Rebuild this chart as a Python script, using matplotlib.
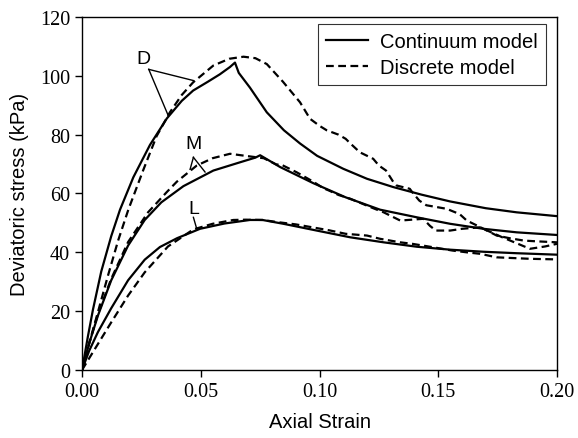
import numpy as np
import matplotlib.pyplot as plt

# Continuum model curves (axial strain, deviatoric stress in kPa)
cont_d_strain = [0, 0.0025, 0.0046, 0.0081, 0.0123, 0.016, 0.0216, 0.0286, 0.0357, 0.042, 0.0468,
                 0.053, 0.058, 0.0623, 0.0644, 0.066, 0.0707, 0.0778, 0.085, 0.0918, 0.099, 0.11, 0.12,
                 0.131, 0.143, 0.155, 0.17, 0.183, 0.2]
cont_d_stress = [0, 11.5, 20.5, 33.5, 45.5, 54.5, 65.5, 76.5, 85.5, 91.5, 95,
                 98, 100.5, 103, 104.5, 101, 96, 87.6, 81.5, 77, 72.8, 68.4, 65,
                 62.2, 59.6, 57.3, 55, 53.6, 52.3]

cont_m_strain = [0, 0.003, 0.0067, 0.0123, 0.0194, 0.0264, 0.0334, 0.0427, 0.0553, 0.0665, 0.073, 0.075,
                 0.0834, 0.0974, 0.111, 0.1255, 0.141, 0.155, 0.169, 0.183, 0.2]
cont_m_stress = [0, 9, 18.5, 30.5, 42.3, 51, 57, 62.5, 67.8, 70.6, 72.2, 73,
                 69, 63.5, 58.7, 54.5, 51.9, 49.7, 48, 46.8, 45.9]

cont_l_strain = [0, 0.003, 0.0067, 0.0123, 0.0194, 0.0264, 0.0328, 0.040, 0.0497, 0.06, 0.0707, 0.076,
                 0.0848, 0.0988, 0.113, 0.127, 0.141, 0.155, 0.169, 0.183, 0.2]
cont_l_stress = [0, 6.5, 12.9, 21, 30.5, 37.5, 41.8, 44.8, 48, 49.8, 51, 51,
                 49.7, 47.4, 45.1, 43.4, 41.9, 40.9, 40.2, 39.7, 39.2]

# Discrete model curves
disc_d_strain = [0, 0.003, 0.0067, 0.0109, 0.0152, 0.0195, 0.0258, 0.0314, 0.037, 0.042, 0.0468, 0.0553,
                 0.062, 0.068, 0.073, 0.0778, 0.0846, 0.0918, 0.096, 0.1, 0.103, 0.108, 0.111, 0.113,
                 0.117, 0.1226, 0.125, 0.128, 0.131, 0.1325, 0.138, 0.139, 0.142, 0.145, 0.1535, 0.159,
                 0.162, 0.1676, 0.1746, 0.18, 0.186, 0.19, 0.195, 0.2]
disc_d_stress = [0, 9, 19.7, 32, 44, 54.5, 68, 79.5, 87.6, 93.5, 97.8, 103.5,
                 105.8, 106.5, 106, 104, 98, 91, 85.4, 83, 81.5, 80, 78.6, 77,
                 74, 71.8, 69.5, 67.8, 64, 62.7, 61.6, 60.5, 57.6, 56, 54.8, 53,
                 50.8, 48.6, 45.7, 44.8, 44, 43.8, 43.6, 43.4]

disc_m_strain = [0, 0.003, 0.0067, 0.0123, 0.0194, 0.0278, 0.0357, 0.0399, 0.0483, 0.055, 0.0623, 0.0707,
                 0.0765, 0.082, 0.0834, 0.0904, 0.0974, 0.1016, 0.104, 0.108, 0.113, 0.1226, 0.127,
                 0.134, 0.1437, 0.1465, 0.149, 0.155, 0.160, 0.1676, 0.177, 0.1886, 0.195, 0.2]
disc_m_stress = [0, 9, 19, 31, 43.5, 53.6, 60.5, 64, 69.5, 72, 73.5, 72.6,
                 72, 69.8, 70, 67.2, 64, 61.8, 61, 59.5, 58.2, 55, 53.6,
                 50.8, 51.4, 49, 47.4, 47.4, 48, 48.5, 45.1, 41.2, 42, 42.9]

disc_l_strain = [0, 0.0053, 0.0123, 0.0194, 0.0264, 0.0362, 0.0469, 0.055, 0.0637, 0.069, 0.076, 0.083,
                 0.09, 0.097, 0.104, 0.111, 0.12, 0.1255, 0.134, 0.139, 0.148, 0.156, 0.162, 0.1676,
                 0.1746, 0.183, 0.1886, 0.2]
disc_l_stress = [0, 7, 16.2, 25.3, 33.2, 42, 47.8, 49.7, 51, 51.1, 51, 50.2,
                 49.5, 48.5, 47.5, 46.3, 45.7, 44.6, 43.4, 42.9, 41.7, 40.6, 40, 39.5,
                 38.3, 38, 37.8, 37.6]

# Curve labels: text position, then the leader lines (from, to)
label_names = ["D", "M", "L"]
label_pos = [(0.0258, 105.8), (0.0469, 76.9), (0.0469, 54.8)]
leader_lines = [
    [((0.0281, 102.2), (0.0469, 98.4)), ((0.0281, 102.2), (0.0363, 86.5))],
    [((0.0469, 72.3), (0.0455, 68.2)), ((0.0469, 72.3), (0.0518, 67.3))],
    [((0.0469, 51.9), (0.0483, 48.0))],
]

sans = ["Liberation Sans", "DejaVu Sans"]
serif = ["Liberation Serif", "DejaVu Serif"]

fig = plt.figure(figsize=(5.78, 4.39), dpi=100)
ax = fig.add_axes([0.1419, 0.1549, 0.8218, 0.8041])

lw = 1.6
dash = (0, (3.5, 2.0))
ax.plot(cont_d_strain, cont_d_stress, color="black", lw=lw, label="Continuum model")
ax.plot(cont_m_strain, cont_m_stress, color="black", lw=lw)
ax.plot(cont_l_strain, cont_l_stress, color="black", lw=lw)
ax.plot(disc_d_strain, disc_d_stress, color="black", lw=lw, linestyle=dash, label="Discrete model")
ax.plot(disc_m_strain, disc_m_stress, color="black", lw=lw, linestyle=dash)
ax.plot(disc_l_strain, disc_l_stress, color="black", lw=lw, linestyle=dash)

for name, pos, lines in zip(label_names, label_pos, leader_lines):
    ax.text(pos[0], pos[1], name, ha="center", va="center", fontsize=14, family=sans)
    for (x0, y0), (x1, y1) in lines:
        ax.plot([x0, x1], [y0, y1], color="black", lw=1.0)

ax.set_xlim(0, 0.2)
ax.set_ylim(0, 120)
ax.set_xticks(np.arange(0, 0.201, 0.05))
ax.set_yticks(np.arange(0, 121, 20))
ax.set_xticklabels([f"{v:.2f}" for v in np.arange(0, 0.201, 0.05)])
ax.tick_params(direction="out", length=5, width=1, top=False, right=False, labelsize=14.5)
for lab in ax.get_xticklabels() + ax.get_yticklabels():
    lab.set_family(serif)
for s in ax.spines.values():
    s.set_linewidth(1.0)

ax.set_xlabel("Axial Strain", fontsize=14.5, family=sans, labelpad=8)
ax.set_ylabel("Deviatoric stress (kPa)", fontsize=14.5, family=sans, labelpad=8)

leg = ax.legend(loc="upper right", bbox_to_anchor=(0.977, 0.98), borderaxespad=0,
                prop={"family": sans, "size": 14.5}, frameon=True, fancybox=False,
                handlelength=2.1, handletextpad=0.6, labelspacing=0.35, borderpad=0.4)
leg.get_frame().set_edgecolor("black")
leg.get_frame().set_linewidth(0.8)

fig.savefig("out.png", dpi=100)
